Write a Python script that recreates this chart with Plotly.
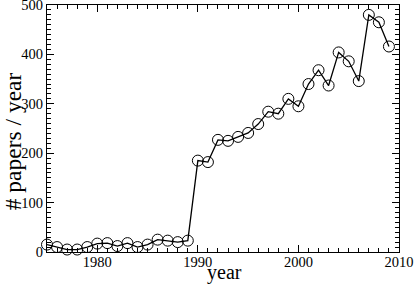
import plotly.graph_objects as go

years = list(range(1975, 2010))
papers = [15, 10, 5, 5, 10, 17, 18, 12, 18, 10, 15, 25, 23, 20, 23,
          185, 182, 227, 225, 233, 241, 259, 284, 280, 310, 295, 340, 368,
          337, 404, 386, 346, 480, 465, 416]

x_ticks = [1980, 1990, 2000, 2010]
y_ticks = [0, 100, 200, 300, 400, 500]
x_title = "year"
y_title = "# papers / year"

fig = go.Figure(go.Scatter(
    x=years, y=papers, mode="lines+markers",
    line=dict(color="black", width=1.3),
    marker=dict(symbol="circle-open", size=11, color="black", line=dict(width=1)),
    cliponaxis=False,
))

font = dict(family="Liberation Serif", color="black")
axis_common = dict(
    showgrid=False, zeroline=False, showline=True, linecolor="black", linewidth=1.3,
    mirror="allticks", ticks="inside", ticklen=7, tickwidth=1.3, tickcolor="black",
    tickfont=dict(size=14.5, **font), automargin=False, ticklabeloverflow="allow",
)
fig.update_xaxes(range=[1975, 2010], tickvals=x_ticks, ticklabelstandoff=-4,
                 minor=dict(dtick=1, tick0=1975, ticks="inside", ticklen=3.5, tickcolor="black", tickwidth=1),
                 **axis_common)
fig.update_yaxes(range=[0, 500], tickvals=y_ticks,
                 minor=dict(dtick=10, tick0=0, ticks="inside", ticklen=3.5, tickcolor="black", tickwidth=1),
                 **axis_common)
fig.add_annotation(text=y_title, textangle=-90, xref="paper", yref="paper",
                   x=-0.096, y=0.449, xanchor="center", yanchor="middle", showarrow=False,
                   font=dict(size=23.5, **font))
fig.add_annotation(text=x_title, xref="paper", yref="paper",
                   x=0.503, y=-0.081, xanchor="center", yanchor="middle", showarrow=False,
                   font=dict(size=20, **font))
fig.update_layout(width=415, height=284, margin=dict(l=47, r=16, t=5, b=32),
                  font=font,
                  plot_bgcolor="white", paper_bgcolor="white", showlegend=False)
fig.write_html("out.html", post_script="document.body.style.margin='0';",
               config={"displayModeBar": False})
